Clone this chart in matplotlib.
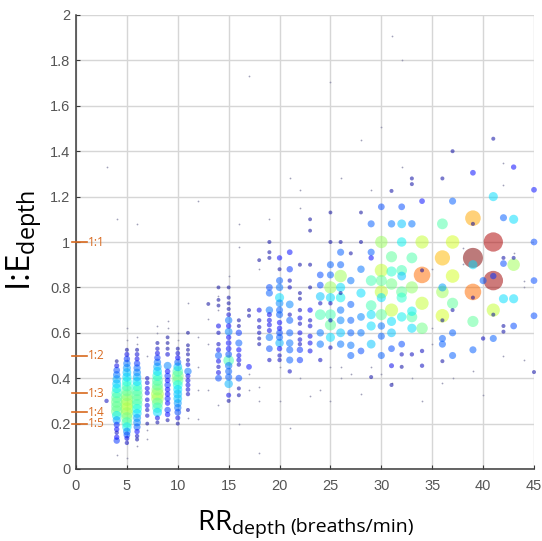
import numpy as np
import matplotlib
matplotlib.use("Agg")
import matplotlib.pyplot as plt

# I:E ratio (depth) per respiratory-rate column, and relative frequency (0..1)
ie_03 = [0.30]
fq_03 = [0.08]
ie_04 = [0.475, 0.455, 0.435, 0.415, 0.395, 0.375, 0.355, 0.335, 0.315, 0.295, 0.275, 0.255, 0.235, 0.215, 0.195, 0.175, 0.16, 0.14, 0.125]
fq_04 = [0.05, 0.12, 0.22, 0.26, 0.32, 0.35, 0.38, 0.44, 0.47, 0.5, 0.48, 0.5, 0.38, 0.3, 0.18, 0.14, 0.08, 0.14, 0.2]
ie_05 = [0.525, 0.505, 0.485, 0.465, 0.445, 0.425, 0.405, 0.385, 0.365, 0.345, 0.325, 0.305, 0.285, 0.265, 0.245, 0.225, 0.205, 0.185, 0.165, 0.15, 0.135, 0.115]
fq_05 = [0.06, 0.12, 0.2, 0.26, 0.3, 0.34, 0.36, 0.4, 0.44, 0.48, 0.52, 0.56, 0.58, 0.58, 0.55, 0.5, 0.45, 0.38, 0.28, 0.22, 0.12, 0.08]
ie_06 = [0.525, 0.505, 0.485, 0.465, 0.445, 0.425, 0.405, 0.385, 0.365, 0.345, 0.325, 0.305, 0.285, 0.265, 0.245, 0.225, 0.205, 0.185, 0.165, 0.145, 0.13]
fq_06 = [0.06, 0.1, 0.12, 0.2, 0.25, 0.28, 0.32, 0.36, 0.42, 0.46, 0.48, 0.48, 0.45, 0.4, 0.36, 0.3, 0.28, 0.24, 0.14, 0.08, 0.06]
ie_07 = [0.40, 0.38, 0.355, 0.335, 0.305, 0.28, 0.26, 0.235, 0.20]
fq_07 = [0.08, 0.1, 0.12, 0.12, 0.1, 0.12, 0.08, 0.08, 0.05]
ie_08 = [0.555, 0.53, 0.51, 0.49, 0.47, 0.45, 0.43, 0.41, 0.39, 0.37, 0.35, 0.33, 0.31, 0.29, 0.27, 0.25, 0.225, 0.205]
fq_08 = [0.06, 0.08, 0.12, 0.2, 0.26, 0.32, 0.36, 0.42, 0.46, 0.48, 0.52, 0.58, 0.56, 0.48, 0.44, 0.36, 0.12, 0.06]
ie_09 = [0.58, 0.555, 0.53, 0.505, 0.455, 0.43, 0.41, 0.39, 0.37, 0.35, 0.33, 0.31, 0.29, 0.26, 0.24, 0.215]
fq_09 = [0.05, 0.05, 0.06, 0.1, 0.28, 0.15, 0.2, 0.15, 0.2, 0.15, 0.15, 0.18, 0.14, 0.2, 0.14, 0.06]
ie_10 = [0.53, 0.51, 0.49, 0.47, 0.45, 0.43, 0.41, 0.39, 0.37, 0.35, 0.33, 0.31, 0.29, 0.27, 0.25, 0.225, 0.2]
fq_10 = [0.06, 0.1, 0.14, 0.24, 0.34, 0.45, 0.52, 0.48, 0.4, 0.36, 0.34, 0.34, 0.3, 0.26, 0.22, 0.12, 0.06]
ie_11 = [0.60, 0.545, 0.525, 0.505, 0.48, 0.46, 0.43, 0.41, 0.39, 0.37, 0.35, 0.33, 0.26]
fq_11 = [0.05, 0.05, 0.05, 0.06, 0.06, 0.1, 0.26, 0.12, 0.12, 0.12, 0.1, 0.08, 0.06]
ie_13 = [0.727]
fq_13 = [0.05]
ie_14 = [0.80, 0.745, 0.72, 0.63, 0.60, 0.55, 0.525, 0.50, 0.475, 0.45, 0.425, 0.40]
fq_14 = [0.05, 0.05, 0.05, 0.12, 0.08, 0.08, 0.12, 0.24, 0.12, 0.08, 0.12, 0.22]
ie_15 = [0.80, 0.755, 0.73, 0.705, 0.68, 0.655, 0.63, 0.605, 0.58, 0.555, 0.53, 0.505, 0.478, 0.455, 0.43, 0.405, 0.375, 0.325, 0.30]
fq_15 = [0.05, 0.06, 0.06, 0.06, 0.1, 0.26, 0.14, 0.28, 0.14, 0.16, 0.16, 0.22, 0.45, 0.26, 0.24, 0.24, 0.32, 0.12, 0.06]
ie_16 = [0.655, 0.63, 0.60, 0.555, 0.525, 0.50, 0.48, 0.46, 0.40, 0.355, 0.325]
fq_16 = [0.06, 0.06, 0.2, 0.24, 0.14, 0.12, 0.12, 0.08, 0.22, 0.06, 0.06]
ie_17 = [0.70, 0.675, 0.45]
fq_17 = [0.06, 0.06, 0.16]
ie_18 = [0.92, 0.70, 0.655, 0.625, 0.60, 0.575, 0.55]
fq_18 = [0.05, 0.12, 0.08, 0.08, 0.08, 0.06, 0.06]
ie_19 = [1.0, 0.955, 0.93, 0.80, 0.775, 0.70, 0.68, 0.655, 0.635, 0.61, 0.58, 0.53, 0.48]
fq_19 = [0.06, 0.06, 0.06, 0.22, 0.24, 0.26, 0.12, 0.12, 0.12, 0.12, 0.26, 0.22, 0.08]
ie_20 = [0.93, 0.88, 0.83, 0.80, 0.755, 0.73, 0.70, 0.68, 0.645, 0.62, 0.60, 0.58, 0.555, 0.53, 0.50, 0.48]
fq_20 = [0.14, 0.06, 0.24, 0.26, 0.36, 0.28, 0.24, 0.24, 0.14, 0.14, 0.22, 0.24, 0.32, 0.14, 0.08, 0.08]
ie_21 = [0.955, 0.88, 0.83, 0.80, 0.725, 0.68, 0.655, 0.60, 0.555, 0.525, 0.48, 0.43]
fq_21 = [0.16, 0.2, 0.08, 0.08, 0.28, 0.08, 0.24, 0.24, 0.26, 0.24, 0.24, 0.08]
ie_22 = [0.90, 0.775, 0.75, 0.70, 0.665, 0.64, 0.60, 0.57, 0.55, 0.525, 0.48]
fq_22 = [0.06, 0.06, 0.06, 0.08, 0.12, 0.08, 0.12, 0.1, 0.08, 0.2, 0.2]
ie_23 = [1.10, 1.05, 0.90, 0.80, 0.70, 0.655, 0.63, 0.585, 0.555, 0.52]
fq_23 = [0.05, 0.05, 0.06, 0.06, 0.14, 0.08, 0.1, 0.12, 0.12, 0.12]
ie_24 = [0.855, 0.81, 0.76, 0.73, 0.68, 0.60, 0.55, 0.48]
fq_24 = [0.22, 0.22, 0.34, 0.08, 0.45, 0.26, 0.26, 0.08]
ie_25 = [1.13, 1.0, 0.90, 0.855, 0.80, 0.755, 0.73, 0.68, 0.655, 0.635, 0.58, 0.535]
fq_25 = [0.05, 0.06, 0.24, 0.24, 0.55, 0.36, 0.08, 0.45, 0.08, 0.48, 0.36, 0.08]
ie_26 = [1.0, 0.955, 0.90, 0.85, 0.80, 0.775, 0.755, 0.70, 0.655, 0.60, 0.55]
fq_26 = [0.06, 0.24, 0.24, 0.56, 0.36, 0.06, 0.38, 0.26, 0.28, 0.34, 0.26]
ie_27 = [0.95, 0.83, 0.725, 0.655, 0.60, 0.545, 0.50]
fq_27 = [0.06, 0.26, 0.24, 0.24, 0.24, 0.26, 0.24]
ie_28 = [1.13, 1.0, 0.88, 0.775, 0.67, 0.60, 0.52]
fq_28 = [0.05, 0.06, 0.26, 0.36, 0.28, 0.26, 0.22]
ie_29 = [1.08, 0.955, 0.93, 0.83, 0.72, 0.68, 0.63, 0.55, 0.405]
fq_29 = [0.24, 0.24, 0.14, 0.45, 0.45, 0.36, 0.36, 0.34, 0.06]
ie_30 = [1.155, 1.0, 0.875, 0.83, 0.78, 0.755, 0.68, 0.63, 0.585, 0.50]
fq_30 = [0.22, 0.55, 0.6, 0.48, 0.6, 0.36, 0.48, 0.26, 0.24, 0.24]
ie_31 = [1.225, 1.08, 0.935, 0.87, 0.815, 0.70, 0.65, 0.60, 0.53, 0.455, 0.37]
fq_31 = [0.06, 0.26, 0.48, 0.42, 0.5, 0.6, 0.36, 0.34, 0.22, 0.12, 0.06]
ie_32 = [1.155, 1.08, 1.0, 0.875, 0.85, 0.78, 0.755, 0.67, 0.55, 0.505, 0.45]
fq_32 = [0.22, 0.34, 0.38, 0.45, 0.34, 0.48, 0.42, 0.38, 0.22, 0.08, 0.06]
ie_33 = [1.28, 1.255, 1.08, 0.93, 0.80, 0.695, 0.67, 0.62, 0.505]
fq_33 = [0.06, 0.06, 0.26, 0.46, 0.54, 0.38, 0.46, 0.36, 0.08]
ie_34 = [1.18, 1.0, 0.855, 0.875, 0.73, 0.62, 0.52, 0.455]
fq_34 = [0.16, 0.6, 0.8, 0.06, 0.6, 0.5, 0.08, 0.08]
ie_36 = [1.28, 1.08, 0.93, 0.80, 0.78, 0.675, 0.655, 0.575, 0.55, 0.475]
fq_36 = [0.06, 0.46, 0.72, 0.3, 0.56, 0.62, 0.06, 0.24, 0.24, 0.06]
ie_37 = [1.40, 1.18, 1.0, 0.85, 0.73, 0.70, 0.60, 0.50]
fq_37 = [0.06, 0.24, 0.62, 0.62, 0.48, 0.06, 0.24, 0.24]
ie_39 = [1.305, 1.105, 1.08, 0.93, 0.90, 0.78, 0.755, 0.65, 0.525]
fq_39 = [0.16, 0.74, 0.06, 1.0, 0.36, 0.8, 0.06, 0.48, 0.24]
ie_40 = [0.83, 0.575]
fq_40 = [0.24, 0.08]
ie_41 = [1.455, 1.20, 1.0, 0.85, 0.83, 0.70, 0.68, 0.575]
fq_41 = [0.06, 0.36, 0.96, 0.2, 0.97, 0.6, 0.06, 0.24]
ie_42 = [1.107, 0.93, 0.905, 0.75, 0.63, 0.605]
fq_42 = [0.24, 0.06, 0.22, 0.36, 0.06, 0.06]
ie_43 = [1.33, 1.10, 0.93, 0.90, 0.75, 0.63]
fq_43 = [0.14, 0.36, 0.06, 0.56, 0.36, 0.22]
ie_45 = [1.23, 1.0, 0.83, 0.675, 0.427]
fq_45 = [0.16, 0.22, 0.22, 0.22, 0.06]

columns = [
    (3, ie_03, fq_03), (4, ie_04, fq_04), (5, ie_05, fq_05), (6, ie_06, fq_06),
    (7, ie_07, fq_07), (8, ie_08, fq_08), (9, ie_09, fq_09), (10, ie_10, fq_10),
    (11, ie_11, fq_11), (13, ie_13, fq_13), (14, ie_14, fq_14), (15, ie_15, fq_15),
    (16, ie_16, fq_16), (17, ie_17, fq_17), (18, ie_18, fq_18), (19, ie_19, fq_19),
    (20, ie_20, fq_20), (21, ie_21, fq_21), (22, ie_22, fq_22), (23, ie_23, fq_23),
    (24, ie_24, fq_24), (25, ie_25, fq_25), (26, ie_26, fq_26), (27, ie_27, fq_27),
    (28, ie_28, fq_28), (29, ie_29, fq_29), (30, ie_30, fq_30), (31, ie_31, fq_31),
    (32, ie_32, fq_32), (33, ie_33, fq_33), (34, ie_34, fq_34), (36, ie_36, fq_36),
    (37, ie_37, fq_37), (39, ie_39, fq_39), (40, ie_40, fq_40), (41, ie_41, fq_41),
    (42, ie_42, fq_42), (43, ie_43, fq_43), (45, ie_45, fq_45),
]

# single occurrences (tiny dots)
tiny_rr = [3, 4, 6, 12, 17, 25, 31, 32, 30, 28,
           32, 42, 21, 26, 22, 29, 42, 38, 38, 44,
           44, 44, 40, 39, 37, 42, 4, 5, 5, 5,
           6, 6, 6, 7, 7, 7, 8, 8, 9, 9,
           10, 10, 11, 11, 12, 12, 12, 12, 13, 13,
           13, 14, 14, 14, 15, 16, 16, 16, 17, 17,
           18, 18, 18, 18, 19, 20, 20, 21, 22, 22,
           23, 24, 25, 25, 26, 26, 27, 28, 29, 30,
           31, 33, 34, 35, 35, 36, 43, 35]
tiny_ie = [1.33, 1.10, 1.08, 1.18, 1.73, 1.705, 1.906, 1.80, 1.506, 1.45,
           1.33, 1.35, 1.28, 1.28, 1.23, 1.23, 1.25, 0.975, 0.905, 0.83,
           0.80, 0.48, 0.325, 0.43, 0.40, 0.50, 0.06, 0.62, 0.57, 0.05,
           0.58, 0.55, 0.10, 0.50, 0.17, 0.13, 0.60, 0.63, 0.65, 0.62,
           0.60, 0.57, 0.73, 0.225, 0.58, 0.45, 0.35, 0.22, 0.66, 0.55,
           0.35, 0.76, 0.70, 0.28, 0.85, 1.08, 0.98, 0.20, 0.42, 0.35,
           0.88, 0.36, 0.30, 0.07, 1.10, 0.45, 0.30, 0.18, 1.15, 0.40,
           0.32, 0.35, 0.45, 0.30, 0.45, 0.40, 0.42, 0.33, 0.45, 0.42,
           0.38, 0.40, 0.30, 0.62, 0.55, 0.38, 0.95, 0.88]

ratio_labels = ["1:1", "1:2", "1:3", "1:4", "1:5"]
ratio_values = [1.0, 0.5, 0.333, 0.25, 0.2]

x_ticks = [0, 5, 10, 15, 20, 25, 30, 35, 40, 45]
y_ticks = [0, 0.2, 0.4, 0.6, 0.8, 1, 1.2, 1.4, 1.6, 1.8, 2]

plt.rcParams["mathtext.fontset"] = "custom"
plt.rcParams["mathtext.rm"] = "Open Sans"
plt.rcParams["mathtext.it"] = "Open Sans:italic"

W, H = 542, 541
fig = plt.figure(figsize=(W / 100, H / 100), dpi=100)
ax = fig.add_axes([76 / W, 72 / H, 458 / W, 454 / H])

rr = []
ie = []
fq = []
for r, ys, fs in columns:
    for y, f in zip(ys, fs):
        rr.append(r)
        ie.append(y)
        fq.append(f)
rr = np.array(rr)
ie = np.array(ie)
fq = np.array(fq)
order = np.argsort(-fq, kind="stable")
diam = 3 + 17 * fq[order]          # pixels
sizes = (diam * 0.72) ** 2

ax.scatter(tiny_rr, tiny_ie, s=1.6, color="#8a8aa8", alpha=0.8,
           linewidths=0, zorder=2, clip_on=False)
ax.scatter(rr[order], ie[order], s=sizes, c=fq[order], cmap="jet",
           vmin=0.03, vmax=1, alpha=0.52, linewidths=0, zorder=3, clip_on=False)

ax.set_xlim(0, 45)
ax.set_ylim(0, 2)
ax.set_xticks(x_ticks)
ax.set_yticks(y_ticks)
ax.set_xticklabels([str(t) for t in x_ticks])
ax.set_yticklabels(["%g" % t for t in y_ticks])
ax.grid(True, color="#d6d6d6", linewidth=1.0)
ax.set_axisbelow(True)
for side in ["top", "right"]:
    ax.spines[side].set_visible(False)
for side in ["left", "bottom"]:
    ax.spines[side].set_color("#3a3a3a")
    ax.spines[side].set_linewidth(1.1)
ax.tick_params(direction="in", length=3, width=0.8, color="#3a3a3a",
               labelsize=10.5, labelcolor="#555555")
ax.tick_params(axis="x", pad=7)
ax.tick_params(axis="y", pad=4)
for lab in ax.get_xticklabels() + ax.get_yticklabels():
    lab.set_family("Liberation Sans")

orange = "#d8691e"
for v, lab in zip(ratio_values, ratio_labels):
    ax.plot([-0.4, 1.1], [v, v], color=orange, lw=1.2, clip_on=False, zorder=4)
    ax.text(1.2, v, lab, color=orange, fontsize=8.5, family="Open Sans",
            va="center", ha="left", zorder=4)

# axis labels
fig.text(24 / W, 1 - 240 / H, r"I:E$_{\mathrm{depth}}$", rotation=90,
         fontsize=24, family="Open Sans", ha="center", va="center")
rr_txt = fig.text(197 / W, 1 - 529 / H, r"RR$_{\mathrm{depth}}$",
                  fontsize=20, family="Open Sans", ha="left", va="baseline")
fig.canvas.draw()
bb = rr_txt.get_window_extent()
fig.text((bb.x1 + 5) / W, 1 - 532 / H, "(breaths/min)", fontsize=14,
         family="Open Sans", ha="left", va="baseline")

fig.savefig("out.png", dpi=100)
